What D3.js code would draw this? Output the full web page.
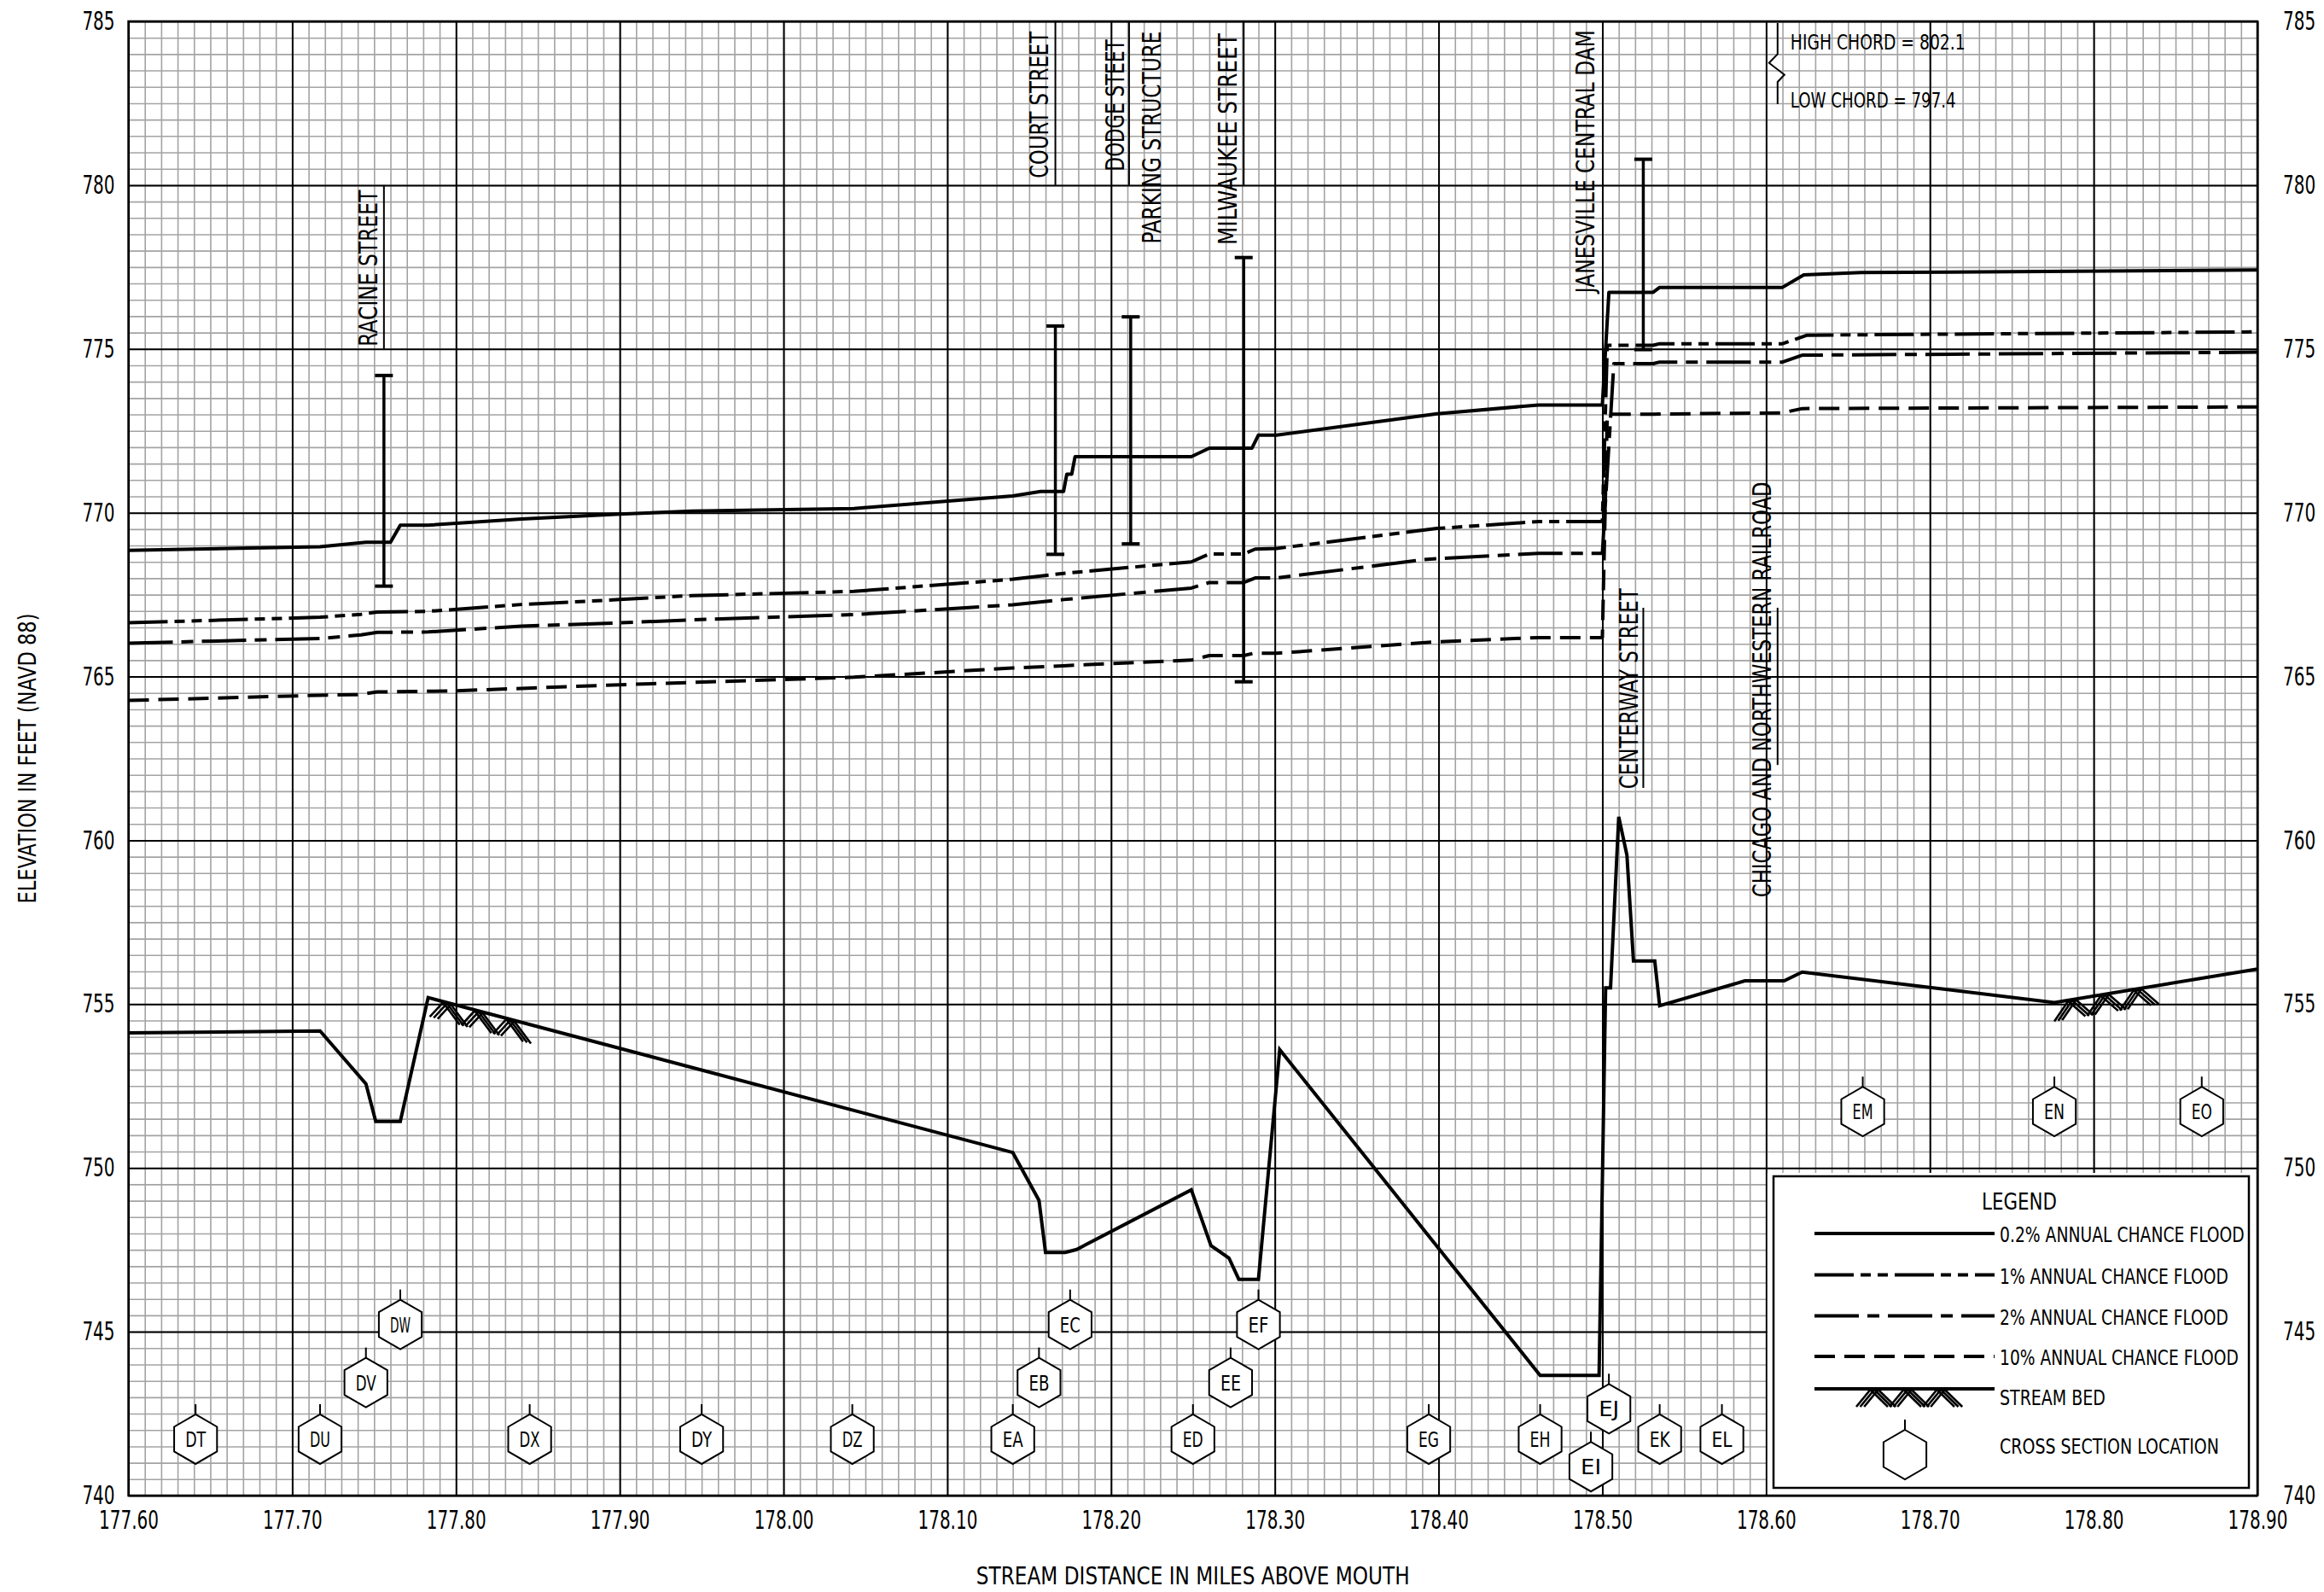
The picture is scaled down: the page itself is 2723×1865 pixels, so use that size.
<!DOCTYPE html>
<html>
<head>
<meta charset="utf-8">
<script src="https://cdn.jsdelivr.net/npm/d3@7"></script>
<style>
  body { margin: 0; background: #fff; }
  text { font-family: "Liberation Sans Narrow", "DejaVu Sans Condensed", "Arial Narrow", sans-serif; fill: #000; }
</style>
</head>
<body>
<svg id="chart" width="2723" height="1865"></svg>
<script>
// ---- Flood profile data: [stream distance (miles above mouth), elevation (ft NAVD 88)] ----
const xTickLabels = ["177.60","177.70","177.80","177.90","178.00","178.10","178.20","178.30","178.40","178.50","178.60","178.70","178.80","178.90"];
const yTickLabels = ["740","745","750","755","760","765","770","775","780","785"];

const flood02 = [
  [177.600,768.85],[177.717,768.96],[177.745,769.10],[177.760,769.10],[177.766,769.62],[177.783,769.62],
  [177.840,769.81],[177.900,769.96],[177.944,770.05],[178.043,770.13],[178.140,770.51],[178.157,770.65],
  [178.171,770.65],[178.173,771.18],[178.176,771.18],[178.178,771.71],[178.249,771.71],[178.260,771.97],
  [178.286,771.97],[178.290,772.37],[178.301,772.37],[178.399,773.02],[178.461,773.29],[178.500,773.29],
  [178.504,776.73],[178.531,776.73],[178.535,776.88],[178.610,776.88],[178.623,777.26],[178.658,777.33],
  [178.900,777.41]
];
const flood1 = [
  [177.600,766.64],[177.717,766.81],[177.742,766.90],[177.752,766.97],[177.783,766.99],[177.840,767.20],
  [177.900,767.35],[177.944,767.47],[178.043,767.60],[178.140,767.97],[178.171,768.15],[178.249,768.50],
  [178.260,768.74],[178.281,768.74],[178.288,768.89],[178.301,768.91],[178.399,769.52],[178.461,769.73],
  [178.500,769.73],[178.503,775.11],[178.531,775.11],[178.535,775.16],[178.610,775.16],[178.625,775.42],
  [178.900,775.52]
];
const flood2 = [
  [177.600,766.02],[177.717,766.16],[177.742,766.27],[177.752,766.35],[177.783,766.36],[177.840,766.54],
  [177.900,766.64],[177.944,766.73],[178.043,766.89],[178.140,767.19],[178.171,767.35],[178.249,767.70],
  [178.260,767.87],[178.281,767.87],[178.288,768.01],[178.301,768.01],[178.393,768.58],[178.461,768.76],
  [178.500,768.76],[178.507,774.55],[178.531,774.55],[178.535,774.60],[178.610,774.60],[178.622,774.81],
  [178.900,774.90]
];
const flood10 = [
  [177.600,764.27],[177.717,764.43],[177.741,764.45],[177.752,764.53],[177.798,764.56],[177.900,764.75],
  [178.000,764.91],[178.043,764.98],[178.140,765.26],[178.171,765.33],[178.249,765.50],[178.260,765.64],
  [178.281,765.64],[178.287,765.71],[178.301,765.71],[178.399,766.06],[178.461,766.19],[178.500,766.19],
  [178.503,773.01],[178.531,773.01],[178.610,773.05],[178.622,773.18],[178.900,773.23]
];
const streamBed = [
  [177.600,754.12],[177.717,754.18],[177.745,752.57],[177.751,751.42],[177.766,751.42],[177.783,755.20],
  [178.140,750.47],[178.156,749.01],[178.160,747.42],[178.172,747.42],[178.179,747.51],[178.249,749.33],
  [178.261,747.63],[178.272,747.25],[178.278,746.60],[178.290,746.60],[178.303,753.61],[178.462,743.67],
  [178.498,743.67],[178.502,755.50],[178.505,755.50],[178.510,760.72],[178.515,759.55],[178.519,756.32],
  [178.532,756.32],[178.535,754.95],[178.587,755.71],[178.611,755.71],[178.622,755.98],[178.776,755.05],
  [178.900,756.07]
];
// stretches of stream bed drawn with the bed symbol [from mile, to mile]
const bedSymbolReaches = [[177.784, 177.842], [178.776, 178.836]];

// bridge / dam openings: mile, low elevation, high elevation
const structureMiles = [177.756, 178.166, 178.212, 178.281, 178.525];
const structureLow   = [767.76, 768.73, 769.05, 764.84, 774.98];
const structureHigh  = [774.19, 775.70, 775.98, 777.79, 780.79];

// cross sections: letter, mile, elevation of symbol
const sectionIds   = ["DT","DU","DV","DW","DX","DY","DZ","EA","EB","EC","ED","EE","EF","EG","EH","EI","EJ","EK","EL","EM","EN","EO"];
const sectionMiles = [177.641,177.717,177.745,177.766,177.845,177.950,178.042,178.140,178.156,178.175,178.250,178.273,178.290,178.394,178.462,178.493,178.504,178.535,178.573,178.659,178.776,178.866];
const sectionElev  = [741.72,741.72,743.45,745.22,741.72,741.72,741.72,741.72,743.45,745.22,741.72,743.45,745.22,741.72,741.72,740.88,742.65,741.72,741.72,751.72,751.72,751.72];

// structure names: text, leader mile, elevation where text begins, leader top / bottom elevations
const nameTexts  = ["RACINE STREET","COURT STREET","DODGE STEET","PARKING STRUCTURE","MILWAUKEE STREET","JANESVILLE CENTRAL DAM","CENTERWAY STREET","CHICAGO AND NORTHWESTERN RAILROAD"];
const nameMiles  = [177.756, 178.166, 178.211, 178.211, 178.281, 178.500, 178.525, 178.607];
const nameStart  = [775.08, 780.21, 780.43, 778.21, 778.17, 776.71, 761.57, 758.26];
const leaderTop  = [780.0, 785.0, 785.0, null, 785.0, null, 767.1, 767.1];
const leaderBot  = [775.0, 780.0, 780.0, null, 780.0, null, 761.6, 762.3];

const legendItems = ["0.2% ANNUAL CHANCE FLOOD","1% ANNUAL CHANCE FLOOD","2% ANNUAL CHANCE FLOOD","10% ANNUAL CHANCE FLOOD"];

// ---- layout ----
const plot = { left: 150.5, right: 2645, top: 25, bottom: 1752 };
const x = d3.scaleLinear().domain([177.6, 178.9]).range([plot.left, plot.right]);
const y = d3.scaleLinear().domain([740, 785]).range([plot.bottom, plot.top]);

const svg = d3.select("#chart");
const styles = {
  "0.2": { dash: null },
  "1":   { dash: "46,8,12,8,12,8" },
  "2":   { dash: "52,10,14,10" },
  "10":  { dash: "24,11" }
};
// label widths on the page (px) for the rotated structure names
const nameLengths = [183, 172, 154, 249, 248, 308, 235, 487];
const nameSide    = [-8, -9, -6, 37, -8, -9, -6.5, -8];
const figureSqueeze = 0.74;   // tall, narrow figures on the axes

// condensed lettering: text squeezed along its own direction to a set length
function label(g, { x: px, y: py, rotate = 0, size, anchor = "start", len = null, text }) {
  const t = g.append("text").style("font-size", size + "px").attr("text-anchor", anchor).text(text);
  const natural = t.node().getComputedTextLength();
  const s = len ? len / natural : 1;
  t.attr("transform", `translate(${px},${py})${rotate ? ` rotate(${rotate})` : ""} scale(${s},1)`);
  return t;
}

// ---- grid ----
const grid = svg.append("g");
const minorX = d3.range(0, 131).map(i => 177.6 + i * 0.01);
const minorY = d3.range(0, 91).map(i => 740 + i * 0.5);
grid.append("g")
  .attr("transform", `translate(0,${plot.bottom})`)
  .call(d3.axisBottom(x).tickValues(minorX).tickSize(-(plot.bottom - plot.top)).tickFormat(""))
  .call(g => g.select(".domain").remove())
  .call(g => g.selectAll("line").attr("stroke", "#a3a3a3").attr("stroke-width", 1.6));
grid.append("g")
  .attr("transform", `translate(${plot.left},0)`)
  .call(d3.axisLeft(y).tickValues(minorY).tickSize(-(plot.right - plot.left)).tickFormat(""))
  .call(g => g.select(".domain").remove())
  .call(g => g.selectAll("line").attr("stroke", "#a3a3a3").attr("stroke-width", 1.6));
grid.append("g")
  .attr("transform", `translate(0,${plot.bottom})`)
  .call(d3.axisBottom(x).tickValues(xTickLabels.map(Number)).tickSize(-(plot.bottom - plot.top)).tickFormat(""))
  .call(g => g.select(".domain").remove())
  .call(g => g.selectAll("line").attr("stroke", "#000").attr("stroke-width", 2));
grid.append("g")
  .attr("transform", `translate(${plot.left},0)`)
  .call(d3.axisLeft(y).tickValues(yTickLabels.map(Number)).tickSize(-(plot.right - plot.left)).tickFormat(""))
  .call(g => g.select(".domain").remove())
  .call(g => g.selectAll("line").attr("stroke", "#000").attr("stroke-width", 2));

// legend panel hides the grid behind it
svg.append("rect")
  .attr("x", x(178.6) + 1.5).attr("y", 1374)
  .attr("width", plot.right - x(178.6) - 1.5).attr("height", plot.bottom - 1374)
  .attr("fill", "#fff");

// frame
svg.append("rect")
  .attr("x", plot.left).attr("y", plot.top)
  .attr("width", plot.right - plot.left).attr("height", plot.bottom - plot.top)
  .attr("fill", "none").attr("stroke", "#000").attr("stroke-width", 2.5);

// ---- axes labels ----
// squeeze each tick label horizontally about its own anchor point
const tickFont = g => g.selectAll("text")
  .style("font-size", "30px").attr("fill", "#000")
  .each(function () {
    const t = d3.select(this);
    const ax = +t.attr("x") || 0;
    t.attr("x", 0).attr("transform", `translate(${ax},0) scale(${figureSqueeze},1)`);
  });
svg.append("g")
  .attr("transform", `translate(0,${plot.bottom})`)
  .call(d3.axisBottom(x).tickValues(xTickLabels.map(Number)).tickSize(0).tickPadding(18).tickFormat((d, i) => xTickLabels[i]))
  .call(g => g.select(".domain").remove())
  .call(tickFont);
svg.append("g")
  .attr("transform", `translate(${plot.left},0)`)
  .call(d3.axisLeft(y).tickValues(yTickLabels.map(Number)).tickSize(0).tickPadding(16).tickFormat((d, i) => yTickLabels[i]))
  .call(g => g.select(".domain").remove())
  .call(tickFont);
svg.append("g")
  .attr("transform", `translate(${plot.right},0)`)
  .call(d3.axisRight(y).tickValues(yTickLabels.map(Number)).tickSize(0).tickPadding(30).tickFormat((d, i) => yTickLabels[i]))
  .call(g => g.select(".domain").remove())
  .call(tickFont);

label(svg, { x: (plot.left + plot.right) / 2, y: 1856, size: 28, anchor: "middle", len: 508,
  text: "STREAM DISTANCE IN MILES ABOVE MOUTH" });
label(svg, { x: 42, y: (plot.top + plot.bottom) / 2, rotate: -90, size: 28, anchor: "middle", len: 340,
  text: "ELEVATION IN FEET (NAVD 88)" });

// ---- flood profiles ----
const line = d3.line().x(d => x(d[0])).y(d => y(d[1]));
const profiles = [[flood10, "10"], [flood2, "2"], [flood1, "1"], [flood02, "0.2"]];
profiles.forEach(([data, key]) => {
  svg.append("path")
    .attr("d", line(data))
    .attr("fill", "none").attr("stroke", "#000").attr("stroke-width", 4)
    .attr("stroke-linejoin", "round")
    .attr("stroke-dasharray", styles[key].dash);
});

// ---- stream bed ----
svg.append("path")
  .attr("d", line(streamBed))
  .attr("fill", "none").attr("stroke", "#000").attr("stroke-width", 4)
  .attr("stroke-linejoin", "miter");

function bedAt(m) {
  for (let i = 1; i < streamBed.length; i++) {
    const a = streamBed[i - 1], b = streamBed[i];
    if (m <= b[0]) return a[1] + (b[1] - a[1]) * (m - a[0]) / (b[0] - a[0]);
  }
  return streamBed[streamBed.length - 1][1];
}
// triple-stroked zigzag that marks the bed
function bedSymbol(g, x0, x1, yAt, depth) {
  const n = Math.max(1, Math.round((x1 - x0) / 37));
  const w = (x1 - x0) / n;
  for (let k = 0; k < 3; k++) {
    const off = k * 4.6;
    for (let i = 0; i < n; i++) {
      const a = x0 + i * w + off, b = a + w * 0.5, c = a + w - 2;
      g.append("path")
        .attr("d", `M${a},${yAt(a) + depth} L${b - 3},${yAt(b - 3) + 1} L${c},${yAt(c) + depth}`)
        .attr("fill", "none").attr("stroke", "#000").attr("stroke-width", 2.6);
    }
  }
}
const bedG = svg.append("g");
bedSymbolReaches.forEach(([m0, m1]) => {
  bedSymbol(bedG, x(m0), x(m1), px => y(bedAt(x.invert(px))), 22);
});

// ---- bridge openings ----
const capW = 21;
structureMiles.forEach((m, i) => {
  const g = svg.append("g").attr("stroke", "#000");
  g.append("line").attr("x1", x(m)).attr("x2", x(m))
    .attr("y1", y(structureHigh[i])).attr("y2", y(structureLow[i])).attr("stroke-width", 3.5);
  [structureHigh[i], structureLow[i]].forEach(e => {
    g.append("line").attr("x1", x(m) - capW / 2).attr("x2", x(m) + capW / 2)
      .attr("y1", y(e)).attr("y2", y(e)).attr("stroke-width", 4);
  });
});

// ---- structure names ----
nameTexts.forEach((t, i) => {
  const lx = x(nameMiles[i]);
  if (leaderTop[i] !== null) {
    svg.append("line").attr("x1", lx).attr("x2", lx)
      .attr("y1", y(leaderTop[i])).attr("y2", y(leaderBot[i]))
      .attr("stroke", "#000").attr("stroke-width", 2);
  }
  label(svg, { x: lx + nameSide[i], y: y(nameStart[i]), rotate: -90, size: 31, len: nameLengths[i], text: t });
});

// high / low chord note at the railroad bridge
{
  const cx = x(178.607);
  const pts = [[cx, y(784.95)], [cx, y(784.0)], [cx - 10, y(783.73)], [cx + 8, y(783.37)], [cx, y(783.15)], [cx, y(782.47)]];
  svg.append("path").attr("d", d3.line()(pts)).attr("fill", "none").attr("stroke", "#000").attr("stroke-width", 2);
  label(svg, { x: cx + 15, y: y(784.14), size: 25, len: 205, text: "HIGH CHORD = 802.1" });
  label(svg, { x: cx + 15, y: y(782.37), size: 25, len: 194, text: "LOW CHORD = 797.4" });
}

// ---- cross-section symbols ----
const R = 29;
const hexPath = d3.line()(d3.range(6).map(k => {
  const a = -Math.PI / 2 + k * Math.PI / 3;
  return [R * Math.cos(a), R * Math.sin(a)];
})) + "Z";
function section(g, cx, cy, id) {
  const s = g.append("g").attr("transform", `translate(${cx},${cy})`);
  s.append("line").attr("x1", 0).attr("x2", 0).attr("y1", -R - 12).attr("y2", -R)
    .attr("stroke", "#000").attr("stroke-width", 2);
  s.append("path").attr("d", hexPath).attr("fill", "#fff").attr("stroke", "#000").attr("stroke-width", 2);
  if (id) label(s, { x: 0, y: 9, size: 25, anchor: "middle", len: id.length * 12, text: id });
}
const secG = svg.append("g");
sectionIds.forEach((id, i) => section(secG, x(sectionMiles[i]), y(sectionElev[i]), id));

// ---- legend ----
const lg = svg.append("g");
lg.append("rect").attr("x", 2078).attr("y", 1378).attr("width", 557).attr("height", 365)
  .attr("fill", "#fff").attr("stroke", "#000").attr("stroke-width", 2.5);
label(lg, { x: 2366, y: 1417, size: 27, anchor: "middle", len: 88, text: "LEGEND" });
const legendKeys = ["0.2", "1", "2", "10"];
const legendRowY = [1445, 1493.5, 1541.5, 1589];
const legendLens = [287, 268, 268, 280];
legendItems.forEach((t, i) => {
  lg.append("line").attr("x1", 2126).attr("x2", 2337).attr("y1", legendRowY[i]).attr("y2", legendRowY[i])
    .attr("stroke", "#000").attr("stroke-width", 4).attr("stroke-dasharray", styles[legendKeys[i]].dash);
  label(lg, { x: 2343, y: legendRowY[i] + 10, size: 24, len: legendLens[i], text: t });
});
lg.append("line").attr("x1", 2126).attr("x2", 2337).attr("y1", 1627).attr("y2", 1627)
  .attr("stroke", "#000").attr("stroke-width", 4);
bedSymbol(lg, 2175, 2292, () => 1627, 21);
label(lg, { x: 2343, y: 1646, size: 24, len: 124, text: "STREAM BED" });
section(lg, 2232, 1704, null);
label(lg, { x: 2343, y: 1703, size: 24, len: 257, text: "CROSS SECTION LOCATION" });
</script>
</body>
</html>
